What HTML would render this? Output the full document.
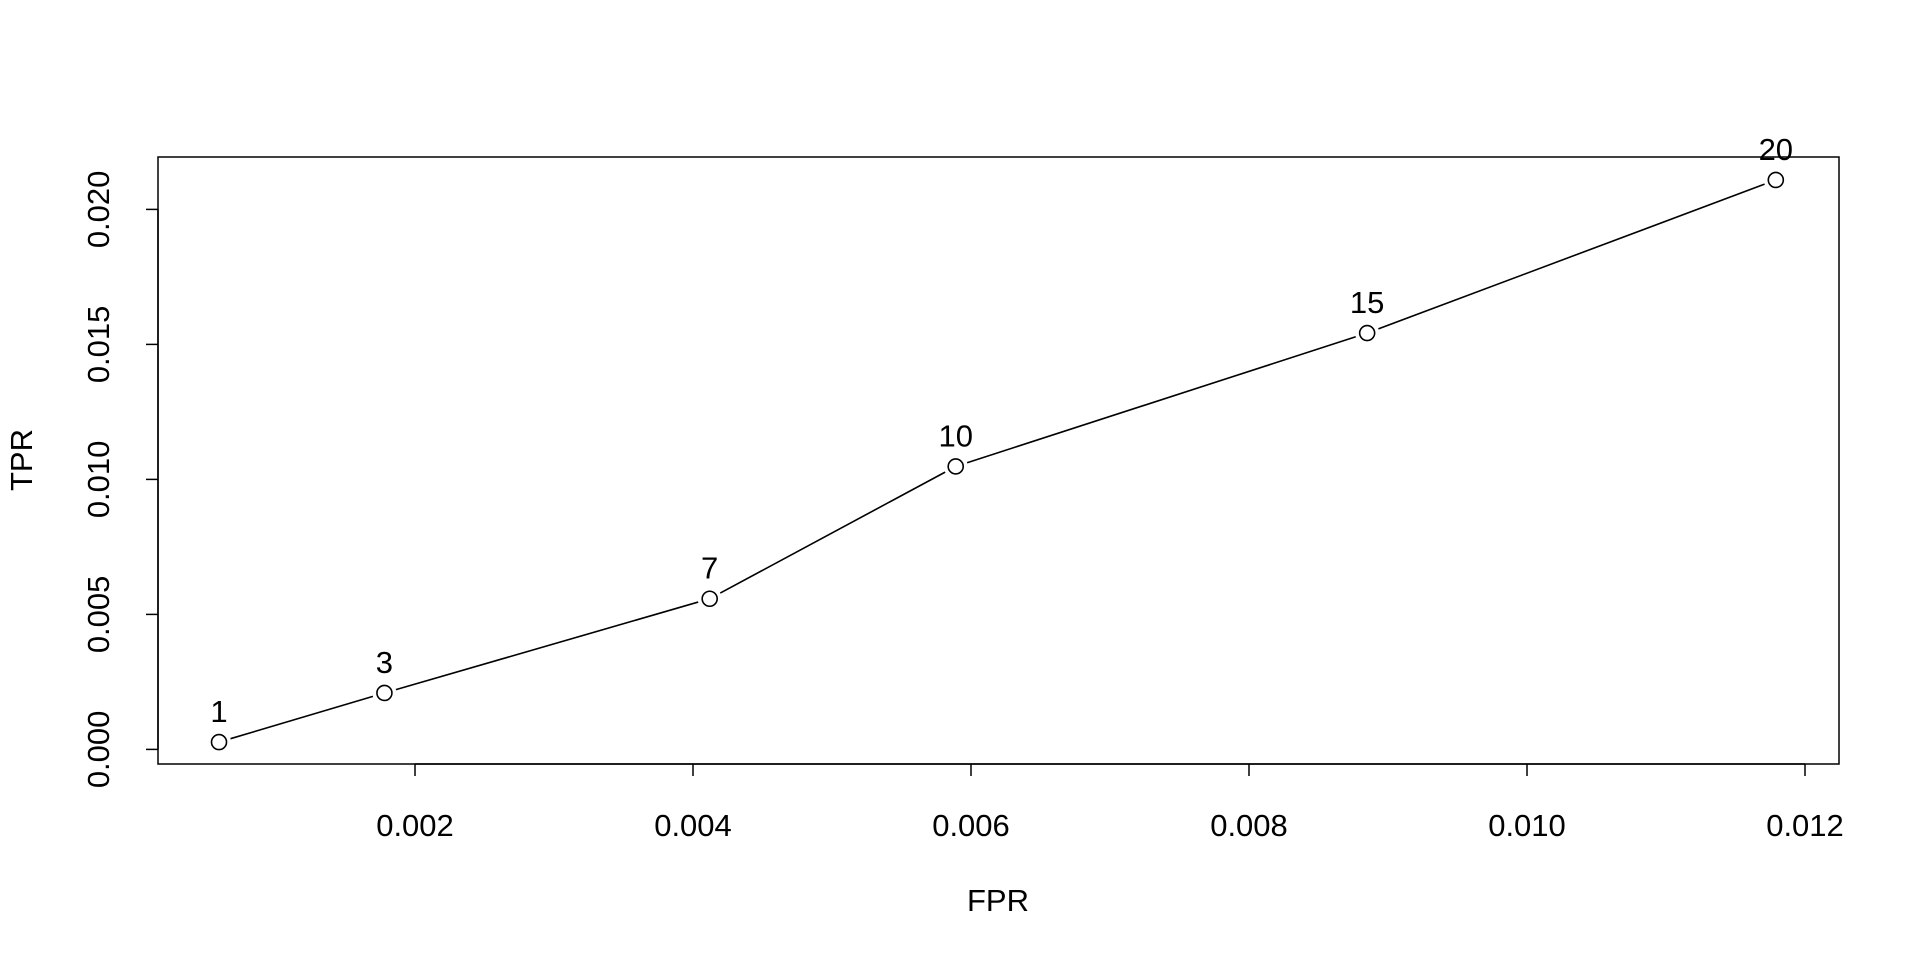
<!DOCTYPE html>
<html><head><meta charset="utf-8"><style>
html,body{margin:0;padding:0;background:#fff;}
svg text{font-family:"Liberation Sans",Arial,sans-serif;fill:#000;}
</style></head><body>
<svg id="chart" width="1920" height="960" viewBox="0 0 1920 960" xmlns="http://www.w3.org/2000/svg"></svg>
<script>
const fprValues = [0.00059, 0.00178, 0.00412, 0.00589, 0.00885, 0.01179];
const tprValues = [0.00027, 0.00209, 0.00558, 0.01048, 0.01542, 0.02109];
const pointLabels = ["1", "3", "7", "10", "15", "20"];
const xTicks = [0.002, 0.004, 0.006, 0.008, 0.010, 0.012];
const xTickLabels = ["0.002", "0.004", "0.006", "0.008", "0.010", "0.012"];
const yTicks = [0.000, 0.005, 0.010, 0.015, 0.020];
const yTickLabels = ["0.000", "0.005", "0.010", "0.015", "0.020"];

const svg = document.getElementById('chart');
const NS = 'http://www.w3.org/2000/svg';
const box = {l:158, r:1839, t:157, b:764};
function xs(v){ return 137 + v/0.002*278; }
function ys(v){ return 749.4 - v/0.005*135; }
function mk(tag, attrs){
  const e = document.createElementNS(NS, tag);
  for (const k in attrs) e.setAttribute(k, attrs[k]);
  svg.appendChild(e);
  return e;
}
let e = mk('rect', {x:box.l, y:box.t, width:box.r-box.l, height:box.b-box.t, fill:'none', stroke:'#000', 'stroke-width':1.5});



e = mk('line', {x1:xs(xTicks[0]), x2:xs(xTicks[xTicks.length-1]), y1:box.b, y2:box.b, stroke:'#000', 'stroke-width':1.5});


xTicks.forEach((t,i)=>{
  const x = xs(t);
  const tk = mk('line', {x1:x, x2:x, y1:box.b, y2:box.b+12, stroke:'#000', 'stroke-width':1.5});
  
  
  const lb = mk('text', {x:x, y:836, 'font-size':31, 'text-anchor':'middle'});
  lb.textContent = xTickLabels[i];
  
  
});
e = mk('line', {x1:box.l, x2:box.l, y1:ys(yTicks[0]), y2:ys(yTicks[yTicks.length-1]), stroke:'#000', 'stroke-width':1.5});


yTicks.forEach((t,i)=>{
  const y = ys(t);
  const tk = mk('line', {x1:box.l-12, x2:box.l, y1:y, y2:y, stroke:'#000', 'stroke-width':1.5});
  
  
  const lb = mk('text', {x:0, y:0, 'font-size':31, 'text-anchor':'middle', transform:`translate(109,${y}) rotate(-90)`});
  lb.textContent = yTickLabels[i];
  
  
});
e = mk('text', {x:998, y:911, 'font-size':31, 'text-anchor':'middle'});
e.textContent = 'FPR';


e = mk('text', {x:0, y:0, 'font-size':31, 'text-anchor':'middle', transform:'translate(32,460) rotate(-90)'});
e.textContent = 'TPR';



const r = 7.5, gap = 12;
for (let i=0;i<fprValues.length-1;i++){
  const x1=xs(fprValues[i]), y1=ys(tprValues[i]), x2=xs(fprValues[i+1]), y2=ys(tprValues[i+1]);
  const d=Math.hypot(x2-x1,y2-y1), ux=(x2-x1)/d, uy=(y2-y1)/d;
  const s = mk('line', {x1:x1+ux*gap, y1:y1+uy*gap, x2:x2-ux*gap, y2:y2-uy*gap, stroke:'#000', 'stroke-width':1.6});
  
  
}
fprValues.forEach((v,i)=>{
  const x=xs(v), y=ys(tprValues[i]);
  const c = mk('circle', {cx:x, cy:y, r:r, fill:'none', stroke:'#000', 'stroke-width':1.6});
  
  
  const t = mk('text', {x:x, y:y-20, 'font-size':31, 'text-anchor':'middle'});
  t.textContent = pointLabels[i];
  
  
});
</script>
</body></html>
